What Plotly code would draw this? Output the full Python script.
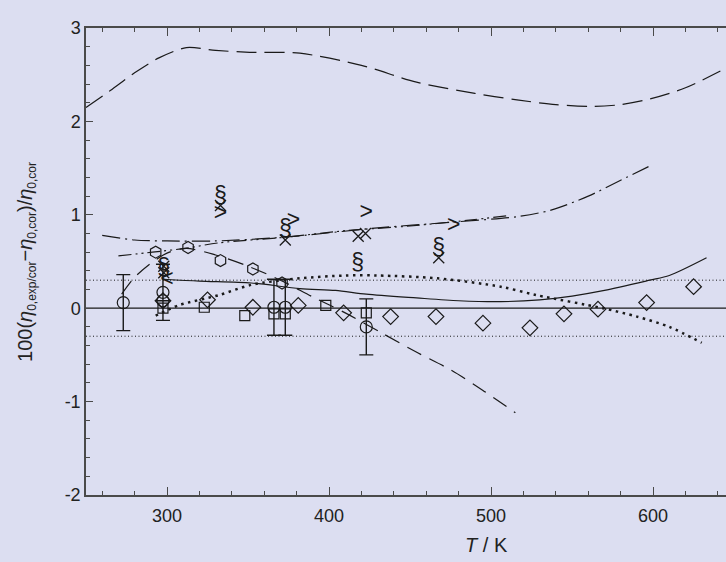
import plotly.graph_objects as go

# ---------------- data ----------------
# correlation curves (T in K, deviation in %)
upper_T = [250, 265, 280, 295, 312, 330, 351, 382, 420, 454, 490, 516, 540, 563, 580, 598, 620, 645]
upper_y = [2.15, 2.33, 2.52, 2.68, 2.79, 2.76, 2.74, 2.73, 2.60, 2.42, 2.30, 2.23, 2.18, 2.16, 2.18, 2.24, 2.36, 2.57]

dashdot_T = [260, 280, 300, 330, 372, 430, 475, 516, 537, 560, 580, 600]
dashdot_y = [0.78, 0.73, 0.72, 0.72, 0.76, 0.86, 0.92, 0.98, 1.05, 1.20, 1.37, 1.54]

dashdotdot_T = [270, 291, 311, 332, 373, 410, 450, 485, 510]
dashdotdot_y = [0.56, 0.60, 0.64, 0.70, 0.76, 0.83, 0.88, 0.94, 0.99]

hexline_T = [272, 280, 290, 300, 312, 330, 350, 370, 390, 410, 433, 455, 475, 495, 515]
hexline_y = [0.15, 0.33, 0.48, 0.59, 0.64, 0.57, 0.45, 0.30, 0.12, -0.05, -0.27, -0.48, -0.66, -0.88, -1.12]

solid_T = [298, 320, 352, 382, 404, 423, 454, 480, 506, 530, 550, 570, 598, 610, 633]
solid_y = [0.31, 0.29, 0.27, 0.21, 0.19, 0.15, 0.11, 0.08, 0.07, 0.09, 0.13, 0.19, 0.30, 0.35, 0.54]

dotted_T = [293, 307, 332, 352, 382, 410, 430, 467, 506, 528, 569, 590, 610, 630]
dotted_y = [-0.08, 0.03, 0.14, 0.25, 0.32, 0.35, 0.35, 0.32, 0.23, 0.14, 0.0, -0.09, -0.20, -0.37]

band_y = [-0.3, 0.3]
x_span = [250, 645]

# experimental points
circle_T = [273, 297.5, 297.5, 366, 373, 423]
circle_y = [0.06, 0.17, 0.08, 0.01, 0.01, -0.20]
circle_err = [0.3, 0.3, 0.0, 0.3, 0.3, 0.3]

square_T = [297.5, 323, 348, 366, 373, 398, 423]
square_y = [0.0, 0.01, -0.08, -0.06, -0.06, 0.03, -0.05]

diamond_T = [297.5, 325, 353, 381, 409, 438, 466, 495, 524, 545, 566, 596, 625]
diamond_y = [0.08, 0.09, 0.01, 0.03, -0.05, -0.09, -0.09, -0.16, -0.21, -0.06, -0.01, 0.06, 0.23]

hexagon_T = [293, 313, 333, 353, 371]
hexagon_y = [0.60, 0.65, 0.51, 0.42, 0.27]

cross_T = [298, 298, 333, 373, 418, 422.5, 467.7]
cross_y = [0.45, 0.38, 1.10, 0.73, 0.77, 0.80, 0.54]

section_T = [298, 333, 373, 417.7, 467.7]
section_y = [0.42, 1.19, 0.83, 0.47, 0.63]

gt_T = [333, 378, 423, 477]
gt_y = [1.01, 0.93, 1.02, 0.88]

lt_T = [300]
lt_y = [0.30]

x_tickvals = [300, 400, 500, 600]
y_tickvals = [-2, -1, 0, 1, 2, 3]
y_ticktext = ["-2", "-1", "0", "1", "2", "3"]

# ---------------- figure ----------------
BG = "#dcdef1"
INK = "#1a1a1a"
AX = "#4a4a4a"

fig = go.Figure()

def curve(T, y, dash, width=1.2):
    fig.add_trace(go.Scatter(x=T, y=y, mode="lines", line=dict(color=INK, width=width, dash=dash,
                                                               shape="spline", smoothing=0.8),
                             hoverinfo="skip"))

# reference lines
fig.add_trace(go.Scatter(x=x_span, y=[0, 0], mode="lines", line=dict(color=INK, width=1.3), hoverinfo="skip"))
for b in band_y:
    fig.add_trace(go.Scatter(x=x_span, y=[b, b], mode="lines",
                             line=dict(color=INK, width=1, dash="1px,2.5px"), hoverinfo="skip"))

curve(upper_T, upper_y, "20px,8px")
curve(dashdot_T, dashdot_y, "18px,5px,2px,5px")
curve(dashdotdot_T, dashdotdot_y, "13px,4px,2px,4px,2px,4px")
curve(hexline_T, hexline_y, "16px,9px")
curve(solid_T, solid_y, "solid")
curve(dotted_T, dotted_y, "2.5px,4.5px", width=2.5)

mk = dict(color=INK, width=1.2)
fig.add_trace(go.Scatter(x=circle_T, y=circle_y, mode="markers",
                         marker=dict(symbol="circle-open", size=12, color=INK, line=mk),
                         error_y=dict(type="data", array=circle_err, color=INK, thickness=1.4, width=7),
                         hoverinfo="skip"))
fig.add_trace(go.Scatter(x=square_T, y=square_y, mode="markers",
                         marker=dict(symbol="square-open", size=10, color=INK, line=mk), hoverinfo="skip"))
fig.add_trace(go.Scatter(x=diamond_T, y=diamond_y, mode="markers",
                         marker=dict(symbol="diamond-open", size=12, color=INK, line=mk), hoverinfo="skip"))
fig.add_trace(go.Scatter(x=hexagon_T, y=hexagon_y, mode="markers",
                         marker=dict(symbol="hexagon-open", size=12, color=INK, line=mk), hoverinfo="skip"))
fig.add_trace(go.Scatter(x=cross_T, y=cross_y, mode="markers",
                         marker=dict(symbol="x-thin-open", size=11, color=INK, line=dict(color=INK, width=1.3)),
                         hoverinfo="skip"))

sym_font = dict(family="Liberation Sans, Arial, sans-serif", size=23, color=INK)
fig.add_trace(go.Scatter(x=section_T, y=section_y, mode="text", text=["§"] * len(section_T),
                         textfont=sym_font, hoverinfo="skip"))
fig.add_trace(go.Scatter(x=gt_T, y=gt_y, mode="text", text=[">"] * len(gt_T),
                         textfont=sym_font, hoverinfo="skip"))
fig.add_trace(go.Scatter(x=lt_T, y=lt_y, mode="text", text=["<"] * len(lt_T),
                         textfont=sym_font, hoverinfo="skip"))

# invisible trace for top axis
fig.add_trace(go.Scatter(x=x_span, y=[None, None], xaxis="x2", mode="lines", hoverinfo="skip"))

tick_font = dict(family="Liberation Sans, Arial, sans-serif", size=18, color="#222")

SUB = '<sub><span style="font-size:12px">{}</span></sub>'
ytitle = ("100(<i>η</i>" + SUB.format("0,exp/cor") + "−<i>η</i>" + SUB.format("0,cor")
          + ")/<i>η</i>" + SUB.format("0,cor"))

fig.update_layout(
    width=726, height=562,
    margin=dict(l=86, r=0, t=28, b=67),
    paper_bgcolor=BG, plot_bgcolor=BG,
    showlegend=False, hovermode=False,
    xaxis=dict(range=x_span, showgrid=False, zeroline=False, showline=True, linecolor=AX, linewidth=1.5,
               ticks="inside", ticklen=8, tickwidth=1.3, tickcolor=AX,
               tickvals=x_tickvals, tickfont=tick_font, ticklabelstandoff=4,
               minor=dict(ticks="inside", ticklen=4, tickwidth=1, tickcolor=AX, dtick=20, tick0=0)),
    xaxis2=dict(range=x_span, overlaying="x", side="top", showgrid=False, zeroline=False, showline=True,
                linecolor=AX, linewidth=1.5, ticks="inside", ticklen=8, tickwidth=1.3, tickcolor=AX,
                tickvals=x_tickvals, showticklabels=False,
                minor=dict(ticks="inside", ticklen=4, tickwidth=1, tickcolor=AX, dtick=20, tick0=0)),
    yaxis=dict(range=[-2, 3], showgrid=False, zeroline=False, showline=True, linecolor=AX, linewidth=1.5,
               ticks="inside", ticklen=7, tickwidth=1.3, tickcolor=AX,
               tickvals=y_tickvals, ticktext=y_ticktext, tickfont=tick_font,
               minor=dict(ticks="inside", ticklen=4, tickwidth=1, tickcolor=AX, dtick=0.2, tick0=0)),
    annotations=[
        dict(text=ytitle,
             xref="paper", yref="paper", x=-0.093, y=0.5, xanchor="center", yanchor="middle",
             textangle=-90, showarrow=False,
             font=dict(family="Liberation Sans, Arial, sans-serif", size=20, color="#222")),
        dict(text="<i>T</i> / K", xref="x", yref="paper", x=497, y=-0.107,
             xanchor="center", yanchor="middle", showarrow=False,
             font=dict(family="Liberation Sans, Arial, sans-serif", size=20, color="#222")),
    ],
)

fig.write_html("out.html")
